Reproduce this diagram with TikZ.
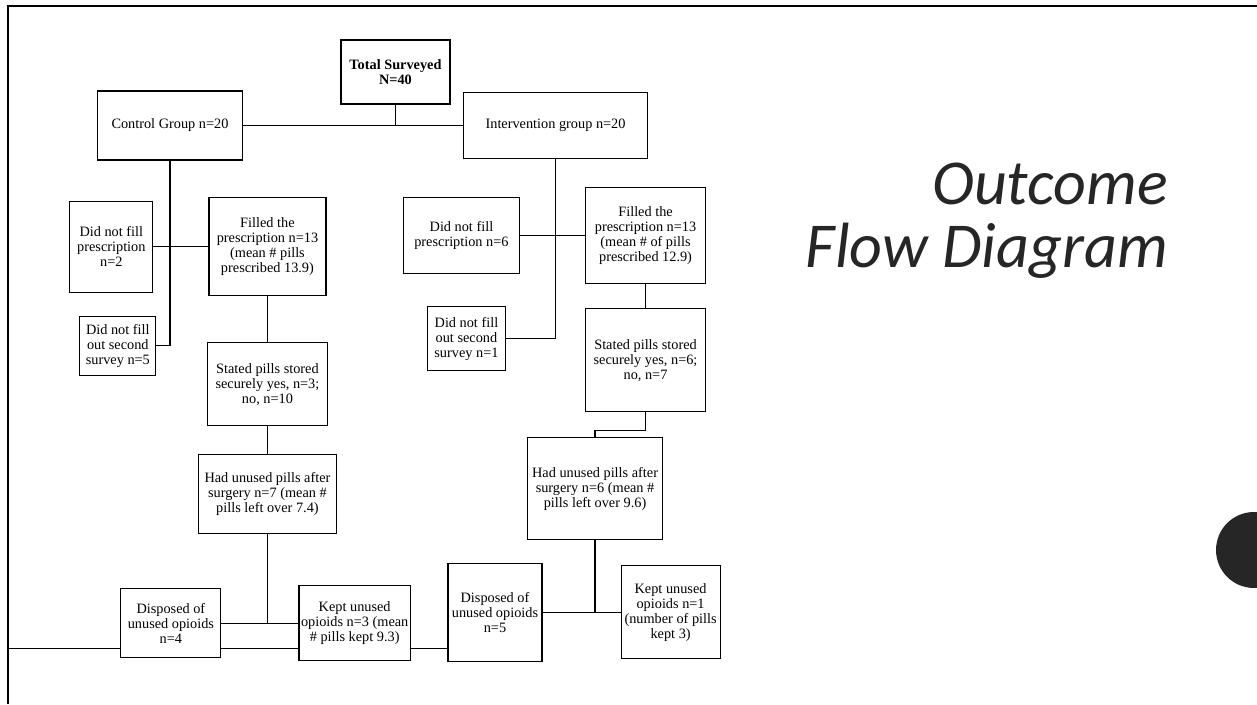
\documentclass[tikz,border=0pt]{standalone}
\usepackage{fontspec}
\setmainfont{Liberation Serif}
\newfontfamily\titlefont{Carlito}
\usepackage{tikz}
\usetikzlibrary{positioning}
\definecolor{titlegray}{HTML}{262626}
\tikzset{
    box/.style={rectangle, draw, line width=1.1pt, inner sep=2pt, align=center, font=\fontsize{14.3}{15}\selectfont},
    boldbox/.style={box, font=\bfseries\fontsize{14.3}{15}\selectfont},
    line/.style={line width=1.3pt},
    frame/.style={line width=2pt},
    title/.style={text=titlegray, inner sep=0pt, font=\titlefont\itshape\fontsize{64}{63}\selectfont}
}

\begin{document}
\begin{tikzpicture}[x=1pt, y=1pt]
    \useasboundingbox (0,0) rectangle (1257,704);

    % Slide frame
    \coordinate (frame_bl) at (8,0);
    \coordinate (frame_tl) at (8,698);
    \coordinate (frame_tr) at (1257,698);
    \draw[frame] (frame_bl) -- (frame_tl) -- (frame_tr);

    % Total surveyed (top)
    \node[boldbox, minimum width=109pt, minimum height=64pt] (total) at (395.5,632) {Total Surveyed\\N=40};
    \coordinate[below=21pt of total] (split);

    % Group boxes
    \node[box, minimum width=145pt, minimum height=69pt, left=152.5pt of split] (control) {Control Group n=20};
    \node[box, minimum width=184pt, minimum height=66pt, right=67.5pt of split] (interv) {Intervention group n=20};

    % Control column
    \node[box, minimum width=117pt, minimum height=98pt, below=36.5pt of control, xshift=97.5pt] (c_filled) {Filled the\\prescription n=13\\(mean \# pills\\prescribed 13.9)};
    \node[box, minimum width=83pt, minimum height=91pt, left=55pt of c_filled] (c_dnf) {Did not fill\\prescription\\n=2};
    \node[box, minimum width=76pt, minimum height=59pt, below=23pt of c_dnf, xshift=6.5pt] (c_dnf2) {Did not fill\\out second\\survey n=5};
    \node[box, minimum width=120pt, minimum height=83pt, below=46pt of c_filled] (c_stated) {Stated pills stored\\securely yes, n=3;\\no, n=10};
    \node[box, minimum width=138pt, minimum height=79pt, below=28pt of c_stated] (c_had) {Had unused pills after\\surgery n=7 (mean \#\\pills left over 7.4)};
    \coordinate[below=89pt of c_had] (c_fork);
    \node[box, minimum width=100pt, minimum height=69pt, left=46pt of c_fork] (c_disp) {Disposed of\\unused opioids\\n=4};
    \node[box, minimum width=110pt, minimum height=75pt, right=31pt of c_fork] (c_kept) {Kept unused\\opioids n=3 (mean\\\# pills kept 9.3)};

    % Intervention column
    \node[box, minimum width=120pt, minimum height=96pt, below=28pt of interv, xshift=90pt] (i_filled) {Filled the\\prescription n=13\\(mean \# of pills\\prescribed 12.9)};
    \node[box, minimum width=116pt, minimum height=76pt, left=65pt of i_filled] (i_dnf) {Did not fill\\prescription n=6};
    \node[box, minimum width=78pt, minimum height=64pt, below=32pt of i_dnf, xshift=5pt] (i_dnf2) {Did not fill\\out second\\survey n=1};
    \node[box, minimum width=120pt, minimum height=103pt, below=24pt of i_filled] (i_stated) {Stated pills stored\\securely yes, n=6;\\no, n=7};
    \node[box, minimum width=135pt, minimum height=102pt, below=25pt of i_stated, xshift=-50.5pt] (i_had) {Had unused pills after\\surgery n=6 (mean \#\\pills left over 9.6)};
    \coordinate[below=72pt of i_had] (i_fork);
    \node[box, minimum width=94pt, minimum height=98pt, left=52.5pt of i_fork] (i_disp) {Disposed of\\unused opioids\\n=5};
    \node[box, minimum width=99pt, minimum height=93pt, right=25.5pt of i_fork] (i_kept) {Kept unused\\opioids n=1\\(number of pills\\kept 3)};

    \coordinate[below=25pt of c_fork] (base);

    % Title and slide dot
    \node[title, anchor=base east] (title_a) at (1168,499) {Outcome};
    \node[title, anchor=base east] (title_b) at ([yshift=-63pt]title_a.base east) {Flow Diagram};
    \fill[titlegray] (1254,154) circle (38);

    % Lines
    \draw[line] (total.south) -- (split);
    \draw[line] (control.east) -- (interv.west);
    \draw[line] (control.south) |- (c_dnf2.east);
    \draw[line] (c_dnf.east) -- (c_filled.west);
    \draw[line] (c_filled) -- (c_stated);
    \draw[line] (c_stated) -- (c_had);
    \draw[line] (c_had.south) |- (c_disp.east);
    \draw[line] (c_had.south) |- (c_kept.west);
    \draw[line] (interv.south) |- (i_dnf2.east);
    \draw[line] (i_dnf.east) -- (i_filled.west);
    \draw[line] (i_filled) -- (i_stated);
    \draw[line] (i_stated.south) -- ++(0,-18) -| (i_had.north);
    \draw[line] (i_had.south) |- (i_disp.east);
    \draw[line] (i_had.south) |- (i_kept.west);
    \draw[line] (frame_bl |- base) -- (c_disp.west |- base);
    \draw[line] (c_disp.east |- base) -- (c_kept.west |- base);
    \draw[line] (c_kept.east |- base) -- (i_disp.west |- base);
\end{tikzpicture}
\end{document}
